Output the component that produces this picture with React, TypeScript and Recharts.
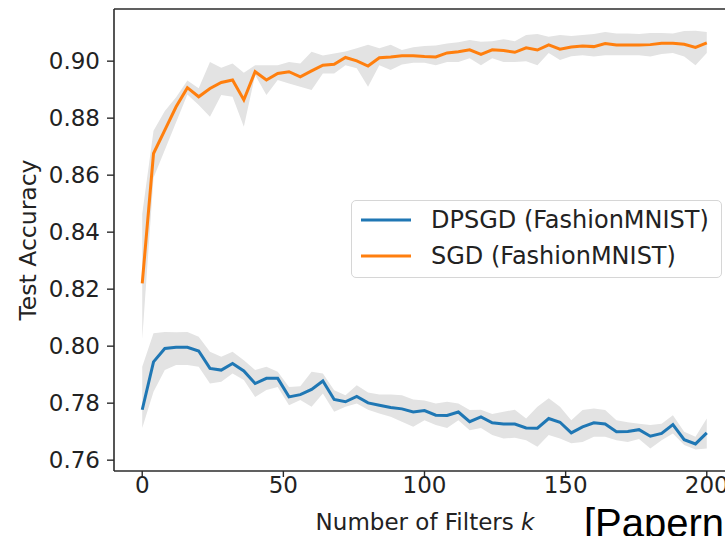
import React from 'react';
import { ComposedChart, Line, Area, XAxis, YAxis, Legend, ReferenceLine } from 'recharts';

const kValues = [
  0, 4, 8, 12, 16, 20, 24, 28, 32, 36, 40, 44, 48, 52, 56, 60, 64, 68, 72, 76,
  80, 84, 88, 92, 96, 100, 104, 108, 112, 116, 120, 124, 128, 132, 136, 140,
  144, 148, 152, 156, 160, 164, 168, 172, 176, 180, 184, 188, 192, 196, 200,
];

const sgdMean = [
  0.8220, 0.8676, 0.8758, 0.8840, 0.8907, 0.8875, 0.8904, 0.8925, 0.8934, 0.8864,
  0.8963, 0.8934, 0.8957, 0.8963, 0.8945, 0.8966, 0.8986, 0.8989, 0.9013, 0.9001,
  0.8983, 0.9012, 0.9015, 0.9019, 0.9019, 0.9016, 0.9015, 0.9029, 0.9033, 0.9040,
  0.9024, 0.9040, 0.9037, 0.9031, 0.9047, 0.9039, 0.9057, 0.9042, 0.9050, 0.9053,
  0.9051, 0.9062, 0.9057, 0.9057, 0.9057, 0.9058, 0.9063, 0.9063, 0.9059, 0.9048,
  0.9064,
];
const sgdLow = [
  0.8025, 0.8591, 0.8688, 0.8786, 0.8883, 0.8846, 0.8805, 0.8881, 0.8875, 0.8770,
  0.8951, 0.8881, 0.8934, 0.8922, 0.8910, 0.8899, 0.8957, 0.8957, 0.8986, 0.8975,
  0.8910, 0.8986, 0.8969, 0.8988, 0.8994, 0.8994, 0.8986, 0.8997, 0.8997, 0.9010,
  0.8986, 0.9010, 0.8997, 0.8997, 0.9000, 0.8986, 0.9029, 0.9004, 0.9017, 0.9021,
  0.9016, 0.9021, 0.9021, 0.9021, 0.9021, 0.9016, 0.9025, 0.9029, 0.9016, 0.8986,
  0.9029,
];
const sgdHigh = [
  0.8464, 0.8756, 0.8825, 0.8873, 0.8932, 0.8905, 0.8997, 0.8977, 0.8992, 0.8959,
  0.8986, 0.8986, 0.8986, 0.8997, 0.8992, 0.9033, 0.9020, 0.9027, 0.9034, 0.9045,
  0.9058, 0.9045, 0.9058, 0.9039, 0.9049, 0.9053, 0.9055, 0.9062, 0.9066, 0.9074,
  0.9068, 0.9070, 0.9077, 0.9070, 0.9092, 0.9095, 0.9086, 0.9092, 0.9088, 0.9092,
  0.9095, 0.9102, 0.9097, 0.9097, 0.9095, 0.9099, 0.9099, 0.9097, 0.9106, 0.9107,
  0.9102,
];

const dpMean = [
  0.7777, 0.7945, 0.7992, 0.7996, 0.7996, 0.7983, 0.7922, 0.7916, 0.7939, 0.7913,
  0.7869, 0.7887, 0.7887, 0.7822, 0.7830, 0.7848, 0.7878, 0.7813, 0.7805, 0.7824,
  0.7801, 0.7793, 0.7785, 0.7780, 0.7769, 0.7774, 0.7758, 0.7757, 0.7769, 0.7735,
  0.7752, 0.7731, 0.7727, 0.7727, 0.7713, 0.7712, 0.7746, 0.7733, 0.7696, 0.7717,
  0.7731, 0.7727, 0.7700, 0.7701, 0.7707, 0.7684, 0.7694, 0.7725, 0.7672, 0.7657,
  0.7696,
];
const dpLow = [
  0.7713, 0.7840, 0.7916, 0.7934, 0.7934, 0.7928, 0.7869, 0.7875, 0.7904, 0.7881,
  0.7822, 0.7846, 0.7857, 0.7793, 0.7811, 0.7787, 0.7834, 0.7770, 0.7787, 0.7799,
  0.7777, 0.7764, 0.7752, 0.7735, 0.7717, 0.7740, 0.7723, 0.7713, 0.7740, 0.7705,
  0.7713, 0.7688, 0.7676, 0.7679, 0.7670, 0.7647, 0.7688, 0.7676, 0.7659, 0.7664,
  0.7682, 0.7682, 0.7670, 0.7664, 0.7674, 0.7641, 0.7670, 0.7694, 0.7653, 0.7637,
  0.7641,
];
const dpHigh = [
  0.7928, 0.8045, 0.8050, 0.8049, 0.8050, 0.8033, 0.7980, 0.7963, 0.7980, 0.7951,
  0.7916, 0.7928, 0.7910, 0.7857, 0.7859, 0.7910, 0.7904, 0.7845, 0.7828, 0.7863,
  0.7837, 0.7830, 0.7830, 0.7828, 0.7813, 0.7809, 0.7799, 0.7805, 0.7799, 0.7776,
  0.7777, 0.7762, 0.7770, 0.7777, 0.7746, 0.7787, 0.7817, 0.7787, 0.7740, 0.7776,
  0.7781, 0.7776, 0.7740, 0.7733, 0.7728, 0.7723, 0.7728, 0.7758, 0.7700, 0.7682,
  0.7746,
];

const xTicks = [0, 50, 100, 150, 200];
const yTicks = [0.76, 0.78, 0.8, 0.82, 0.84, 0.86, 0.88, 0.9];
const xDomain: [number, number] = [-10, 210];
const yDomain: [number, number] = [0.7562, 0.9183];

const seriesNames = ['DPSGD (FashionMNIST)', 'SGD (FashionMNIST)'];
const seriesColors = ['#1f77b4', '#ff7f0e'];

const data = kValues.map((k, i) => ({
  k,
  dp: dpMean[i],
  dpBand: [dpLow[i], dpHigh[i]],
  sgd: sgdMean[i],
  sgdBand: [sgdLow[i], sgdHigh[i]],
}));

const FONT = '"DejaVu Sans", sans-serif';
const TEXT = '#222222';
const AXIS = '#2b2b2b';
const BAND = '#e3e3e3';

const XTitle = () => (
  <text x={425} y={530} textAnchor="middle" fontFamily={FONT} fontSize={23} fill={TEXT}>
    <tspan>Number of Filters </tspan>
    <tspan fontStyle="italic">k</tspan>
  </text>
);

const YTitle = () => (
  <text
    x={28}
    y={240}
    transform="rotate(-90, 28, 240)"
    textAnchor="middle"
    dominantBaseline="central"
    fontFamily={FONT}
    fontSize={23.5}
    fill={TEXT}
  >
    Test Accuracy
  </text>
);

const LegendBox = () => (
  <div
    style={{
      width: 371,
      height: 78,
      boxSizing: 'border-box',
      border: '1.5px solid #d6d6d6',
      borderRadius: 5,
      background: 'rgba(255,255,255,0.85)',
      paddingTop: 1,
      fontFamily: FONT,
      fontSize: 24,
      color: TEXT,
    }}
  >
    {seriesNames.map((name, i) => (
      <div key={name} style={{ display: 'flex', alignItems: 'center', height: 36 }}>
        <svg width={79} height={10} style={{ flex: 'none' }}>
          <line x1={9} y1={5} x2={59} y2={5} stroke={seriesColors[i]} strokeWidth={3} />
        </svg>
        <span style={{ whiteSpace: 'nowrap', lineHeight: 1 }}>{name}</span>
      </div>
    ))}
  </div>
);

export default function App() {
  return (
    <div
      style={{
        position: 'absolute',
        left: 0,
        top: 0,
        width: 725,
        height: 536,
        overflow: 'hidden',
        background: '#ffffff',
      }}
    >
      <ComposedChart
        width={751}
        height={536}
        data={data}
        margin={{ top: 9, right: 16, bottom: 0, left: 0 }}
      >
        <XAxis
          dataKey="k"
          type="number"
          domain={xDomain}
          allowDataOverflow
          ticks={xTicks}
          interval={0}
          height={65}
          tickSize={6}
          tickMargin={0}
          axisLine={{ stroke: AXIS, strokeWidth: 1.6 }}
          tickLine={{ stroke: AXIS, strokeWidth: 1.4 }}
          tick={{ fontFamily: FONT, fontSize: 23, fill: TEXT }}
          label={<XTitle />}
        />
        <YAxis
          type="number"
          domain={yDomain}
          allowDataOverflow
          ticks={yTicks}
          interval={0}
          width={114}
          tickSize={7}
          tickMargin={7}
          tickFormatter={(v: number) => v.toFixed(2)}
          axisLine={{ stroke: AXIS, strokeWidth: 1.6 }}
          tickLine={{ stroke: AXIS, strokeWidth: 1.4 }}
          tick={{ fontFamily: FONT, fontSize: 23, fill: TEXT }}
          label={<YTitle />}
        />
        <ReferenceLine y={yDomain[1]} stroke={AXIS} strokeWidth={1.6} />
        <Legend
          layout="horizontal"
          align="center"
          verticalAlign="middle"
          wrapperStyle={{ left: 351, top: 200, width: 371, height: 78 }}
          content={() => <LegendBox />}
        />
        <Area
          type="linear"
          dataKey="dpBand"
          stroke="none"
          fill={BAND}
          fillOpacity={1}
          isAnimationActive={false}
          legendType="none"
          dot={false}
          activeDot={false}
        />
        <Line
          type="linear"
          dataKey="dp"
          name={seriesNames[0]}
          stroke={seriesColors[0]}
          strokeWidth={3}
          dot={false}
          activeDot={false}
          isAnimationActive={false}
        />
        <Area
          type="linear"
          dataKey="sgdBand"
          stroke="none"
          fill={BAND}
          fillOpacity={1}
          isAnimationActive={false}
          legendType="none"
          dot={false}
          activeDot={false}
        />
        <Line
          type="linear"
          dataKey="sgd"
          name={seriesNames[1]}
          stroke={seriesColors[1]}
          strokeWidth={3}
          dot={false}
          activeDot={false}
          isAnimationActive={false}
        />
      </ComposedChart>
      <svg
        width={725}
        height={536}
        style={{ position: 'absolute', left: 0, top: 0, pointerEvents: 'none' }}
      >
        <text x={584} y={537} fontFamily='"Liberation Sans", Arial, sans-serif' fontSize={40} fill="#000000">
          [Papernot
        </text>
      </svg>
    </div>
  );
}
